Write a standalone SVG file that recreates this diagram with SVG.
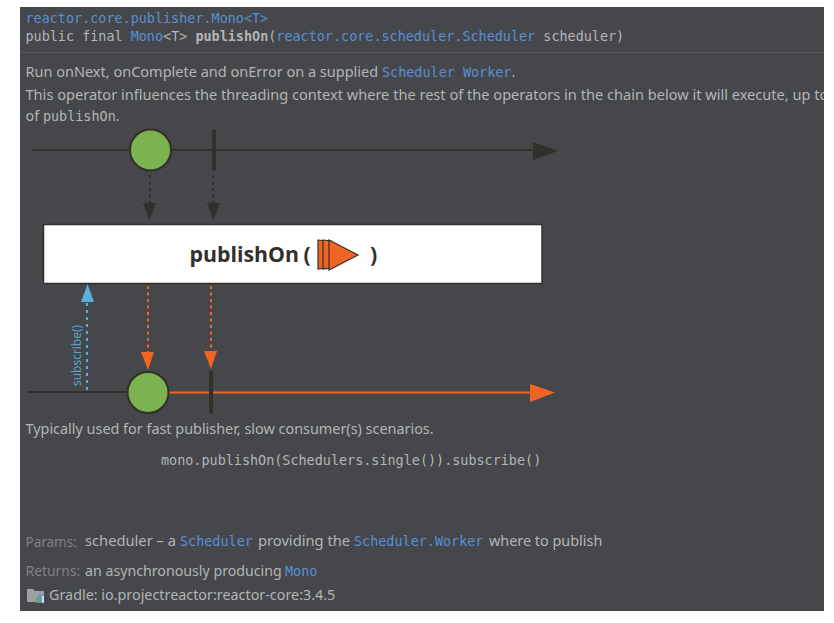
<svg xmlns="http://www.w3.org/2000/svg" width="834" height="623" viewBox="0 0 834 623">
<style>
text{white-space:pre}
.m{font-family:"DejaVu Sans Mono","Liberation Mono",monospace;font-size:13.45px;fill:#b4b5b6}
.s{font-family:"Noto Sans","Open Sans",sans-serif;font-size:14.4px;fill:#b4b5b6}
.l{fill:#5a8fd6}
.d{fill:#808183;font-size:13.5px}
.b{font-weight:bold}
.ln{fill:none;stroke:#332f2b;stroke-width:2}
.dk{fill:#332f2b}
.or{fill:#f06524}
.nd{fill:#7cb24f;stroke:#332f2b;stroke-width:2}
.bar{stroke:#332f2b;stroke-width:4;stroke-linecap:round}
.op{font-family:"Open Sans","Noto Sans",sans-serif;font-weight:bold;font-size:21.3px;fill:#332f2b}
</style>
<defs>
<clipPath id="panel"><rect x="20" y="7" width="804" height="604"/></clipPath>
</defs>
<rect width="834" height="623" fill="#ffffff"/>
<g id="panel-bg" clip-path="url(#panel)">
<rect x="20" y="7" width="804" height="604" fill="#45474a"/>
<line x1="20" y1="52.500" x2="824" y2="52.500" stroke="#57595b"/>
<g id="header">
<text class="m l" x="25.500" y="23">reactor.core.publisher.Mono&lt;T&gt;</text>
<text class="m" x="25.500" y="41">public final <tspan class="l">Mono</tspan>&lt;T&gt; <tspan class="b">publishOn</tspan>(<tspan class="l">reactor.core.scheduler.Scheduler</tspan> scheduler)</text>
</g>
<g id="description">
<text class="s" x="25.500" y="77" style="font-size:14.5px">Run onNext, onComplete and onError on a supplied <tspan class="m l" x="382">Scheduler Worker</tspan>.</text>
<text class="s" x="25.500" y="100" style="font-size:14.58px">This operator influences the threading context where the rest of the operators in the chain below it will execute, up to</text>
<text class="s" x="25.500" y="121">of <tspan class="m">publishOn</tspan>.</text>
</g>
<g id="footer">
<text class="s" x="25.500" y="434">Typically used for fast publisher, slow consumer(s) scenarios.</text>
<text class="m" x="161" y="465">mono.publishOn(Schedulers.single()).subscribe()</text>
<text class="s d" x="25.500" y="547">Params:</text>
<text class="s" x="85" y="546" style="font-size:14.7px">scheduler – a <tspan class="m l" x="180">Scheduler</tspan> <tspan x="258">providing the</tspan> <tspan class="m l" x="354">Scheduler.Worker</tspan> <tspan x="489" style="font-size:14.4px">where to publish</tspan></text>
<text class="s d" x="25.500" y="576" style="font-size:13.9px">Returns:</text>
<text class="s" x="85" y="576" style="font-size:14.2px">an asynchronously producing <tspan class="m l" x="285">Mono</tspan></text>
<text class="s" x="49" y="600" style="font-size:14.35px">Gradle: io.projectreactor:reactor-core:3.4.5</text>
<g id="gradle-icon">
<path d="M27 589h6l2 2h9v11H27z" fill="#9da0a3"/>
<rect x="36" y="597" width="2.500" height="6" fill="#6aa84f"/>
<rect x="39" y="594" width="2.500" height="9" fill="#4f9ad6"/>
<rect x="42" y="596" width="2" height="7" fill="#d8d8d8"/>
</g>
</g>
<g id="connectors">
<line class="ln" x1="32" y1="150" x2="536" y2="150"/>
<polygon class="dk" points="533,142 558,151 533,160"/>
<line class="ln" x1="150" y1="175" x2="150" y2="204" stroke-dasharray="3 3.500"/>
<polygon class="dk" points="143,203 156,203 149.500,220"/>
<line class="ln" x1="213" y1="175" x2="213" y2="204" stroke-dasharray="3 3.500"/>
<polygon class="dk" points="207,203 220,203 213.500,220"/>
<line x1="148" y1="286" x2="148" y2="352" stroke="#f06524" stroke-width="2" stroke-dasharray="3 3.500"/>
<polygon class="or" points="141,352 154,352 148,370"/>
<line x1="211" y1="286" x2="211" y2="352" stroke="#f06524" stroke-width="2" stroke-dasharray="3 3.500"/>
<polygon class="or" points="204,351 217,351 211,369"/>
<line x1="87" y1="303" x2="87" y2="393" stroke="#5ab0dc" stroke-width="2" stroke-dasharray="3 4"/>
<polygon points="81,302 94,302 87.500,284" fill="#5ab0dc"/>
<line class="ln" x1="28" y1="392" x2="130" y2="392"/>
<line x1="168" y1="392.500" x2="532" y2="392.500" stroke="#f06524" stroke-width="2"/>
<polygon class="or" points="530,384 555,392.500 530,402"/>
</g>
<g id="source-item-1"><circle class="nd" cx="150.500" cy="150" r="20.500"/></g>
<g id="source-item-2"><line class="bar" x1="214" y1="131" x2="214" y2="169"/></g>
<g id="operator">
<rect x="43.500" y="224.500" width="498.500" height="59" fill="#ffffff" stroke="#332f2b" stroke-width="1.500"/>
<text class="op" x="189.500" y="262">publishOn</text>
<text class="op" x="303.500" y="262">(</text>
<text class="op" x="370" y="262">)</text>
<g class="or" stroke="#332f2b" stroke-width="1.200">
<polygon points="318,240 326,241 326,268 318,269"/>
<polygon points="323,240 331,241 331,268 323,269"/>
<polygon points="329,240 358,255 329,270"/>
</g>
</g>
<g id="result-item-1"><circle class="nd" cx="148" cy="392.500" r="20.500"/></g>
<g id="result-item-2"><line class="bar" x1="211" y1="372" x2="211" y2="412"/></g>
<text id="subscribe-label" transform="translate(81 386) rotate(-90)" font-family="'Open Sans','Noto Sans',sans-serif" font-size="12px" fill="#5aa7cf">subscribe()</text>
</g>
</svg>
